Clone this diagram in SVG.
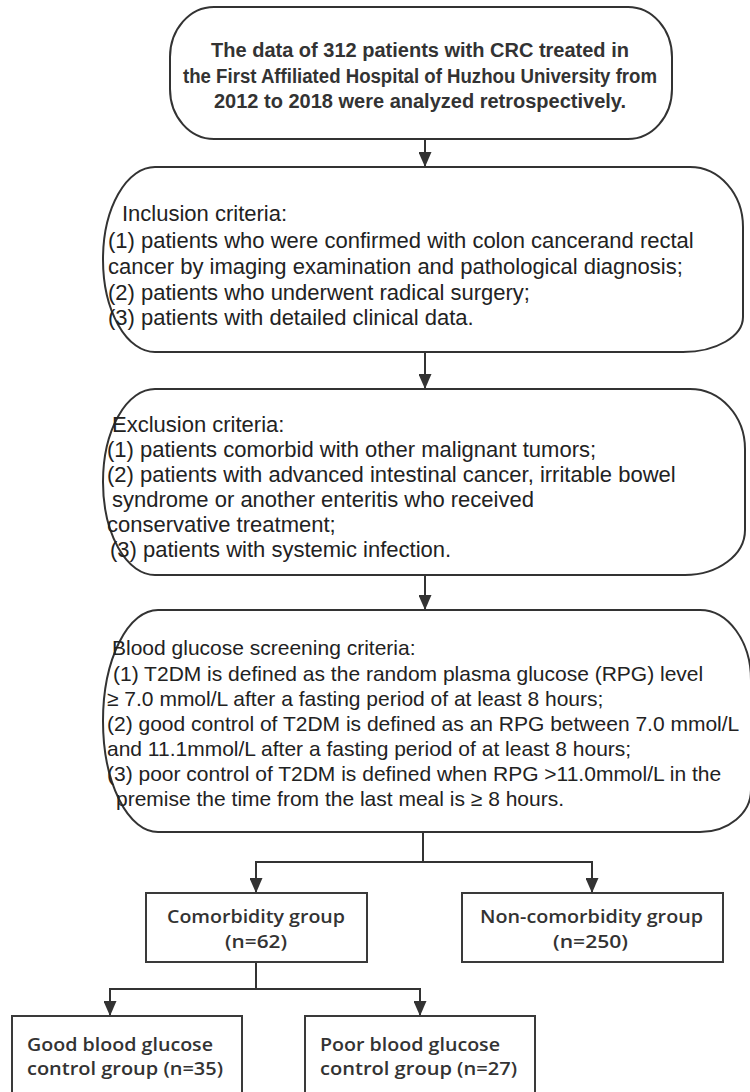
<svg xmlns="http://www.w3.org/2000/svg" width="750" height="1092" viewBox="0 0 750 1092">
<defs>
<marker id="arr" markerUnits="userSpaceOnUse" markerWidth="15" markerHeight="13" refX="15" refY="6.5" orient="auto">
<path d="M0,0 L15,6.5 L0,13 Z" fill="#333"/>
</marker>
<style>
.box{fill:#fff;stroke:#333;stroke-width:2}
.rbox{fill:#fff;stroke:#3a3a3a;stroke-width:2}
.con{fill:none;stroke:#333;stroke-width:2}
.arr{marker-end:url(#arr)}
.t1{font-family:"Liberation Sans",Arial,sans-serif;font-weight:bold;font-size:20px;fill:#333;text-anchor:middle}
.t2{font-family:"Liberation Sans",Arial,sans-serif;font-size:22px;fill:#222}
.t4{font-family:"Liberation Sans",Arial,sans-serif;font-size:21px;fill:#222}
.tg{font-family:"Open Sans","Noto Sans",sans-serif;font-weight:600;font-size:18px;fill:#333}
.c{text-anchor:middle}
</style>
</defs>
<rect width="750" height="1092" fill="#fff"/>
<g id="connectors">
<line class="con arr" x1="425" y1="139" x2="425" y2="167"/>
<line class="con arr" x1="425" y1="352" x2="425" y2="389"/>
<line class="con arr" x1="425" y1="575" x2="425" y2="610"/>
<polyline class="con" points="423,832 423,862"/>
<line class="con" x1="255" y1="862" x2="593" y2="862"/>
<line class="con arr" x1="256" y1="862" x2="256" y2="893"/>
<line class="con arr" x1="592" y1="862" x2="592" y2="893"/>
<line class="con" x1="256" y1="962" x2="256" y2="989"/>
<line class="con" x1="109" y1="989" x2="421" y2="989"/>
<line class="con arr" x1="110" y1="989" x2="110" y2="1016"/>
<line class="con arr" x1="420" y1="989" x2="420" y2="1016"/>
</g>
<g id="n1">
<rect class="box" x="170" y="7" width="502" height="132" rx="44" ry="50"/>
<text class="t1" x="420" y="57">The data of 312 patients with CRC treated in</text>
<text class="t1" x="420" y="83" textLength="474" lengthAdjust="spacingAndGlyphs">the First Affiliated Hospital of Huzhou University from</text>
<text class="t1" x="420" y="108">2012 to 2018 were analyzed retrospectively.</text>
</g>
<g id="n2">
<path class="box" d="M155,167 H690 A53,60 0 0 1 743,227 V317 A60,35 0 0 1 683,352 H155 A52,92.5 0 0 1 155,167 Z"/>
<text class="t2" x="122" y="221">Inclusion criteria:</text>
<text class="t2" x="108" y="248">(1) patients who were confirmed with colon cancerand rectal</text>
<text class="t2" x="108" y="274">cancer by imaging examination and pathological diagnosis;</text>
<text class="t2" x="108" y="300">(2) patients who underwent radical surgery;</text>
<text class="t2" x="108" y="325">(3) patients with detailed clinical data.</text>
</g>
<g id="n3">
<path class="box" d="M155,389 H690 A55,60 0 0 1 745,449 V530 A60,45 0 0 1 685,575 H155 A52,93 0 0 1 155,389 Z"/>
<text class="t2" x="112" y="432">Exclusion criteria:</text>
<text class="t2" x="107" y="457">(1) patients comorbid with other malignant tumors;</text>
<text class="t2" x="107" y="482">(2) patients with advanced intestinal cancer, irritable bowel</text>
<text class="t2" x="112" y="507">syndrome or another enteritis who received</text>
<text class="t2" x="107" y="532">conservative treatment;</text>
<text class="t2" x="110" y="557">(3) patients with systemic infection.</text>
</g>
<g id="n4">
<path class="box" d="M158,610 H700 A51,70 0 0 1 751,680 V790 A51,42 0 0 1 700,832 H158 A55,111 0 0 1 158,610 Z"/>
<text class="t4" x="112" y="655">Blood glucose screening criteria:</text>
<text class="t4" x="113" y="681">(1) T2DM is defined as the random plasma glucose (RPG) level</text>
<text class="t4" x="107" y="706">≥ 7.0 mmol/L after a fasting period of at least 8 hours;</text>
<text class="t4" x="107" y="731">(2) good control of T2DM is defined as an RPG between 7.0 mmol/L</text>
<text class="t4" x="107" y="756">and 11.1mmol/L after a fasting period of at least 8 hours;</text>
<text class="t4" x="107" y="781">(3) poor control of T2DM is defined when RPG &gt;11.0mmol/L in the</text>
<text class="t4" x="116" y="806">premise the time from the last meal is ≥ 8 hours.</text>
</g>
<g id="n5">
<rect class="rbox" x="146" y="893" width="221" height="69"/>
<text class="tg c" x="256" y="923" textLength="178" lengthAdjust="spacingAndGlyphs">Comorbidity group</text>
<text class="tg c" x="256" y="948" textLength="62" lengthAdjust="spacingAndGlyphs">(n=62)</text>
</g>
<g id="n6">
<rect class="rbox" x="462" y="893" width="261" height="69"/>
<text class="tg c" x="591.5" y="923" textLength="223" lengthAdjust="spacingAndGlyphs">Non-comorbidity group</text>
<text class="tg c" x="590.5" y="948" textLength="75" lengthAdjust="spacingAndGlyphs">(n=250)</text>
</g>
<g id="n7">
<rect class="rbox" x="12" y="1016" width="230" height="90"/>
<text class="tg" x="27" y="1051" textLength="186" lengthAdjust="spacingAndGlyphs">Good blood glucose</text>
<text class="tg" x="27" y="1075" textLength="196" lengthAdjust="spacingAndGlyphs">control group (n=35)</text>
</g>
<g id="n8">
<rect class="rbox" x="305" y="1016" width="230" height="90"/>
<text class="tg" x="320" y="1051" textLength="180" lengthAdjust="spacingAndGlyphs">Poor blood glucose</text>
<text class="tg" x="320" y="1075" textLength="197" lengthAdjust="spacingAndGlyphs">control group (n=27)</text>
</g>
</svg>
